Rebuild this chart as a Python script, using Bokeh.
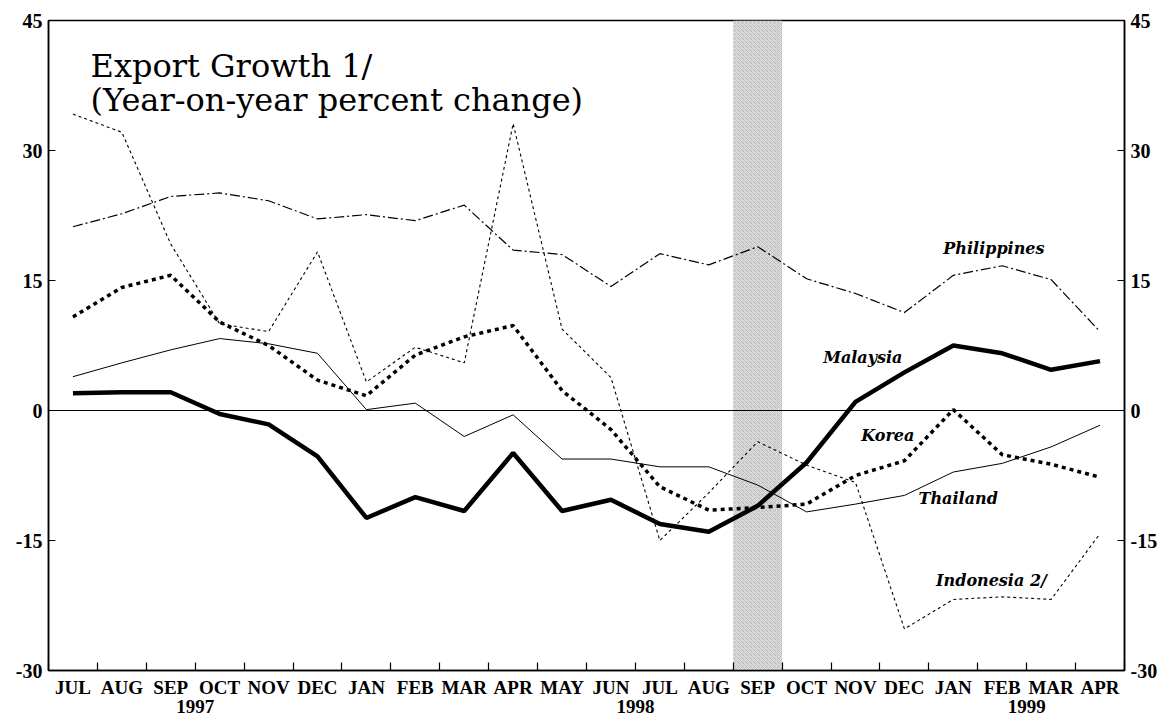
from bokeh.plotting import figure
from bokeh.models import FixedTicker, LinearAxis, Span, BoxAnnotation, Label, Range1d, ColumnDataSource
from bokeh.core.properties import value
from bokeh.embed import file_html
from bokeh.resources import INLINE

# ---------------- data ----------------
month_labels = ["JUL", "AUG", "SEP", "OCT", "NOV", "DEC", "JAN", "FEB", "MAR", "APR", "MAY", "JUN",
                "JUL", "AUG", "SEP", "OCT", "NOV", "DEC", "JAN", "FEB", "MAR", "APR"]
year_labels = ["1997", "1998", "1999"]
year_boundary_index = [3, 12, 20]          # month boundary under which the year is printed
shaded_month_index = 14                    # SEP 1998

malaysia = [2.0, 2.1, 2.1, -0.4, -1.6, -5.3, -12.4, -10.0, -11.6, -4.9, -11.6, -10.3,
            -13.1, -14.0, -11.0, -6.0, 1.0, 4.4, 7.5, 6.6, 4.7, 5.7]
philippines = [21.2, 22.7, 24.7, 25.1, 24.2, 22.1, 22.6, 21.9, 23.7, 18.5, 18.0, 14.3,
               18.1, 16.8, 18.9, 15.2, 13.5, 11.3, 15.6, 16.7, 15.1, 9.1]
korea = [10.8, 14.2, 15.6, 10.2, 7.5, 3.5, 1.7, 6.4, 8.5, 9.8, 2.3, -2.2,
         -8.8, -11.5, -11.2, -10.8, -7.5, -5.8, 0.1, -5.1, -6.2, -7.7]
indonesia = [34.2, 32.1, 19.2, 10.0, 9.1, 18.3, 3.3, 7.3, 5.5, 33.1, 9.4, 3.8,
             -15.0, -9.5, -3.6, -6.3, -8.3, -25.2, -21.8, -21.5, -21.8, -14.2]
thailand = [3.9, 5.5, 7.0, 8.3, 7.7, 6.6, 0.1, 0.85, -3.0, -0.5, -5.6, -5.6,
            -6.5, -6.5, -8.6, -11.7, -10.8, -9.8, -7.1, -6.1, -4.2, -1.7]

y_ticks = [-30, -15, 0, 15, 30, 45]
y_tick_labels = ["-30", "-15", "0", "15", "30", "45"]

title_lines = ["Export Growth 1/", "(Year-on-year percent change)"]

# ---------------- derived positions ----------------
n = len(month_labels)
x = [i + 0.5 for i in range(n)]
boundaries = list(range(0, n + 1))

src = ColumnDataSource(dict(x=x, malaysia=malaysia, philippines=philippines, korea=korea,
                            indonesia=indonesia, thailand=thailand))

SERIF_BOLD = "Liberation Serif"

p = figure(width=1170, height=719, x_range=Range1d(0, n), y_range=Range1d(-30, 45),
           output_backend="svg", toolbar_location=None,
           x_axis_location=None, y_axis_location=None,
           min_border_left=48, min_border_right=46, min_border_top=20, min_border_bottom=49,
           background_fill_color="white", border_fill_color="white")
p.grid.visible = False
p.outline_line_color = "black"
p.outline_line_width = 1.5

# shaded month
p.add_layout(BoxAnnotation(left=shaded_month_index, right=shaded_month_index + 1,
                           fill_color="#dadada", fill_alpha=1.0,
                           hatch_pattern="x", hatch_color="#8a8a8a", hatch_scale=4,
                           hatch_weight=0.6, hatch_alpha=0.5,
                           line_color=None, level="underlay"))

# zero line
p.add_layout(Span(location=0, dimension="width", line_color="black", line_width=1.2))


def yaxis():
    ax = LinearAxis(ticker=FixedTicker(ticks=y_ticks, minor_ticks=[]),
                    major_label_overrides={t: l for t, l in zip(y_ticks, y_tick_labels)},
                    major_tick_in=7, major_tick_out=0, minor_tick_line_color=None,
                    major_label_standoff=6, axis_line_width=1.5, major_tick_line_width=1.2,
                    major_label_text_font=SERIF_BOLD, major_label_text_font_style="bold",
                    major_label_text_font_size="20px", major_label_text_color="black")
    return ax


p.add_layout(yaxis(), "left")
p.add_layout(yaxis(), "right")

xax = LinearAxis(ticker=FixedTicker(ticks=x, minor_ticks=boundaries),
                 major_label_overrides={xx: l for xx, l in zip(x, month_labels)},
                 major_tick_in=0, major_tick_out=0, major_tick_line_color=None,
                 minor_tick_in=8, minor_tick_out=0, minor_tick_line_width=1.2,
                 axis_line_width=1.5, major_label_standoff=6,
                 major_label_text_font=SERIF_BOLD, major_label_text_font_style="bold",
                 major_label_text_font_size="19px", major_label_text_color="black")
p.add_layout(xax, "below")

yrax = LinearAxis(ticker=FixedTicker(ticks=year_boundary_index, minor_ticks=[]),
                  major_label_overrides={float(b): l for b, l in zip(year_boundary_index, year_labels)},
                  axis_line_color=None, major_tick_line_color=None, minor_tick_line_color=None,
                  major_label_standoff=-7,
                  major_label_text_font=SERIF_BOLD, major_label_text_font_style="bold",
                  major_label_text_font_size="19px", major_label_text_color="black")
p.add_layout(yrax, "below")

# series
p.line("x", "thailand", source=src, line_color="black", line_width=1.0)
p.line("x", "indonesia", source=src, line_color="black", line_width=1.1, line_dash="3 3")
p.line("x", "philippines", source=src, line_color="black", line_width=1.2, line_dash="10 3 2 3")
p.line("x", "korea", source=src, line_color="black", line_width=3.5, line_dash="4 4")
p.line("x", "malaysia", source=src, line_color="black", line_width=4.5)

# series labels
lab = ColumnDataSource(dict(
    x=[19.33, 16.65, 17.16, 18.6, 19.28],
    y=[18.7, 6.1, -2.9, -10.15, -19.6],
    t=["Philippines", "Malaysia", "Korea", "Thailand", "Indonesia 2/"]))
p.text("x", "y", text="t", source=lab, text_font=value("DejaVu Serif"),
       text_font_style="bold italic", text_font_size="16px",
       text_align="center", text_baseline="middle", text_color="black")

# title
p.add_layout(Label(x=0.86, y=39.8, text=title_lines[0], text_font="DejaVu Serif",
                   text_font_size="32px", text_baseline="alphabetic", text_color="black"))
p.add_layout(Label(x=0.86, y=35.77, text=title_lines[1], text_font="DejaVu Serif",
                   text_font_size="32px", text_baseline="alphabetic", text_color="black"))

open("out.html", "w").write(file_html(p, INLINE))
